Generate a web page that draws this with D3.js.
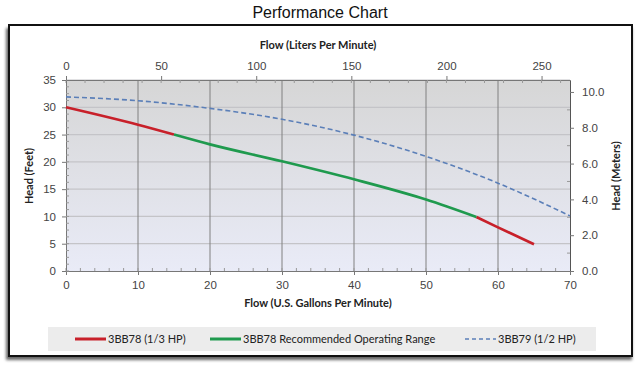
<!DOCTYPE html>
<html>
<head>
<meta charset="utf-8">
<script src="https://cdn.jsdelivr.net/npm/d3@7"></script>
<style>
  body { margin: 0; background: #fff; }
  svg { display: block; font-family: Lato, "Open Sans", sans-serif; }
  .tick text { fill: #444; font-size: 11.5px; }
  .axis-title { font-size: 11px; font-weight: bold; fill: #222; }
</style>
</head>
<body>
<div id="chart"></div>
<script>
// --- data ---
const gpmTicks = [0, 10, 20, 30, 40, 50, 60, 70];
const lpmTicks = [0, 50, 100, 150, 200, 250];
const feetTicks = [0, 5, 10, 15, 20, 25, 30, 35];
const meterTicks = [0, 2, 4, 6, 8, 10];

// [gpm, feet]
const red1 = [[0, 30], [10, 26.8], [15, 25]];
const green = [[15, 25], [20, 23.2], [30, 20.1], [40, 16.8], [50, 13.1], [57, 9.9]];
const red2 = [[57, 9.9], [60, 8.0], [65, 4.9]];
const dashed = [[0, 31.9], [10, 31.2], [20, 29.8], [30, 27.8], [40, 24.9], [50, 21.0], [60, 16.1], [70, 10.1]];

const legendItems = [
  {label: '3BB78 (1/3 HP)', color: '#c8202a', dash: null, x: 75},
  {label: '3BB78 Recommended Operating Range', color: '#1f9a4e', dash: null, x: 210},
  {label: '3BB79 (1/2 HP)', color: '#5b7fb8', dash: '4,3', x: 465}
];

const width = 640, height = 366;
const plot = {left: 66, right: 570, top: 80, bottom: 271};

const svg = d3.select('#chart').append('svg')
  .attr('width', width).attr('height', height);

const defs = svg.append('defs');
const grad = defs.append('linearGradient').attr('id', 'bg')
  .attr('x1', 0).attr('y1', 0).attr('x2', 0).attr('y2', 1);
grad.append('stop').attr('offset', '0%').attr('stop-color', '#d6d6d6');
grad.append('stop').attr('offset', '100%').attr('stop-color', '#e9ebf7');
const blur = defs.append('filter').attr('id', 'shadow')
  .attr('x', -0.05).attr('y', -0.05).attr('width', 1.1).attr('height', 1.1);
blur.append('feGaussianBlur').attr('stdDeviation', 1.5);

// title
svg.append('text').attr('x', 320).attr('y', 18)
  .attr('text-anchor', 'middle')
  .style('font-family', '"Liberation Sans", Arial, sans-serif')
  .style('font-size', '16px').attr('fill', '#111')
  .text('Performance Chart');

// frame with shadow
svg.append('rect').attr('x', 6).attr('y', 28).attr('width', 626).attr('height', 332)
  .attr('fill', '#666').attr('filter', 'url(#shadow)');
svg.append('rect').attr('x', 9).attr('y', 25).attr('width', 623).attr('height', 331)
  .attr('fill', '#fff').attr('stroke', '#111').attr('stroke-width', 2);

// scales
const x = d3.scaleLinear([0, 70], [plot.left, plot.right]);
const xL = d3.scaleLinear([0, 70 * 3.785], [plot.left, plot.right]);
const y = d3.scaleLinear([0, 35], [plot.bottom, plot.top]);
const yM = d3.scaleLinear([0, 35 * 0.3048], [plot.bottom, plot.top]);

// plot background
svg.append('rect').attr('x', plot.left).attr('y', plot.top)
  .attr('width', plot.right - plot.left).attr('height', plot.bottom - plot.top)
  .attr('fill', 'url(#bg)');

// gridlines
svg.append('g').selectAll('line').data(feetTicks.slice(1)).join('line')
  .attr('x1', plot.left).attr('x2', plot.right)
  .attr('y1', d => y(d)).attr('y2', d => y(d))
  .attr('stroke', '#c4c4c8').attr('stroke-width', 1.2);
svg.append('g').selectAll('line').data(gpmTicks.slice(1, -1)).join('line')
  .attr('x1', d => x(d)).attr('x2', d => x(d))
  .attr('y1', plot.top).attr('y2', plot.bottom)
  .attr('stroke', '#808080').attr('stroke-width', 1);

// axes
function styleAxis(g) {
  g.select('.domain').attr('stroke', '#777');
  g.selectAll('.tick line').attr('stroke', '#777');
}
function minor(g, scale, values, orient) {
  g.append('g').selectAll('line').data(values).join('line')
    .attr('stroke', '#999')
    .each(function (d) {
      const s = d3.select(this);
      const p = scale(d);
      if (orient === 'bottom' || orient === 'top') {
        s.attr('x1', p).attr('x2', p).attr('y1', 0).attr('y2', orient === 'bottom' ? -3 : 3);
      } else {
        s.attr('y1', p).attr('y2', p).attr('x1', 0).attr('x2', orient === 'left' ? 3 : -3);
      }
    });
}

const gB = svg.append('g').attr('transform', `translate(0,${plot.bottom})`)
  .call(d3.axisBottom(x).tickValues(gpmTicks).tickSize(4).tickSizeOuter(0).tickPadding(6));
minor(gB, x, d3.range(0, 70, 2), 'bottom');
styleAxis(gB);

const gT = svg.append('g').attr('transform', `translate(0,${plot.top})`)
  .call(d3.axisTop(xL).tickValues(lpmTicks).tickSize(4).tickSizeOuter(0).tickPadding(6));
minor(gT, xL, d3.range(0, 265, 10), 'top');
styleAxis(gT);

const gL = svg.append('g').attr('transform', `translate(${plot.left},0)`)
  .call(d3.axisLeft(y).tickValues(feetTicks).tickSize(4).tickSizeOuter(0).tickPadding(6));
minor(gL, y, d3.range(0, 35, 1.25), 'left');
styleAxis(gL);

const gR = svg.append('g').attr('transform', `translate(${plot.right},0)`)
  .call(d3.axisRight(yM).tickValues(meterTicks).tickFormat(d3.format('.1f')).tickSize(4).tickSizeOuter(0).tickPadding(8));
minor(gR, yM, d3.range(1, 11, 2), 'right');
styleAxis(gR);
gR.select('.domain').attr('stroke', '#555');

// axis titles
svg.append('text').attr('class', 'axis-title').attr('x', 318).attr('y', 49)
  .attr('text-anchor', 'middle').text('Flow (Liters Per Minute)');
svg.append('text').attr('class', 'axis-title').attr('x', 318).attr('y', 307)
  .attr('text-anchor', 'middle').text('Flow (U.S. Gallons Per Minute)');
svg.append('text').attr('class', 'axis-title')
  .attr('transform', 'translate(33,176) rotate(-90)')
  .attr('text-anchor', 'middle').text('Head (Feet)');
svg.append('text').attr('class', 'axis-title')
  .attr('transform', 'translate(620,176) rotate(-90)')
  .attr('text-anchor', 'middle').text('Head (Meters)');

// curves
const line = d3.line().x(d => x(d[0])).y(d => y(d[1])).curve(d3.curveMonotoneX);
svg.append('path').datum(dashed).attr('d', line)
  .attr('fill', 'none').attr('stroke', '#5b7fb8').attr('stroke-width', 1.6)
  .attr('stroke-dasharray', '5,3');
[red1, red2].forEach(seg => svg.append('path').datum(seg).attr('d', line)
  .attr('fill', 'none').attr('stroke', '#c8202a').attr('stroke-width', 2.7));
svg.append('path').datum(green).attr('d', line)
  .attr('fill', 'none').attr('stroke', '#1f9a4e').attr('stroke-width', 2.7);

// legend
svg.append('rect').attr('x', 48).attr('y', 327).attr('width', 548).attr('height', 24)
  .attr('fill', '#ececec');
const lg = svg.append('g').selectAll('g').data(legendItems).join('g')
  .attr('transform', d => `translate(${d.x},339)`);
lg.append('line').attr('x1', 0).attr('x2', 31)
  .attr('stroke', d => d.color).attr('stroke-width', d => d.dash ? 1.5 : 3)
  .attr('stroke-dasharray', d => d.dash);
lg.append('text').attr('x', 33).attr('dy', '0.35em')
  .style('font-size', '11px').attr('fill', '#222').text(d => d.label);
</script>
</body>
</html>
